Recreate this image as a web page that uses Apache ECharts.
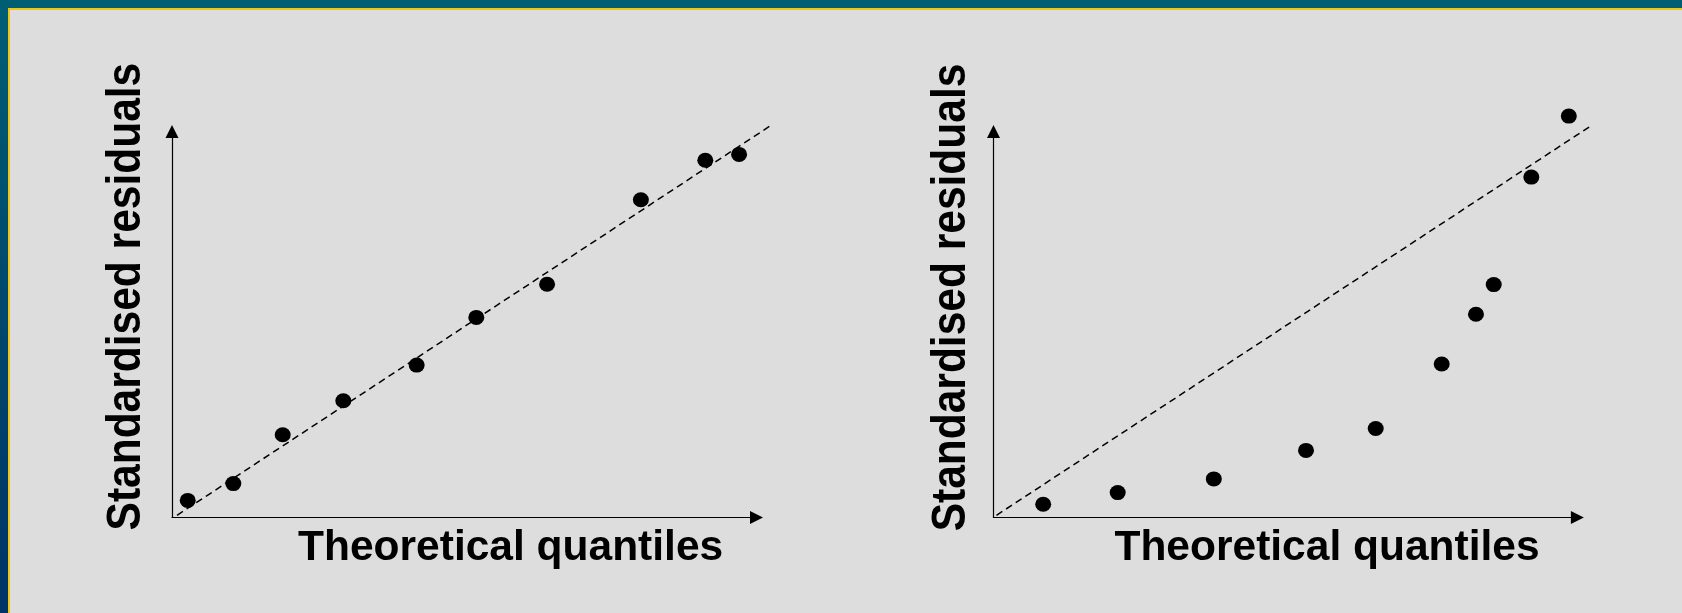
<!DOCTYPE html>
<html>
<head>
<meta charset="utf-8">
<script src="https://cdn.jsdelivr.net/npm/echarts@6/dist/echarts.min.js"></script>
<style>
html,body{margin:0;padding:0;background:#dddddd;}
#c{width:1682px;height:613px;}
</style>
</head>
<body>
<div id="c"></div>
<script>
// Left panel: approximately normal residuals (0-100 scale, no ticks shown)
var leftQuantiles  = [2.69, 10.49, 18.94, 29.31, 41.86, 52.06, 64.17, 80.22, 91.24, 97.02];
var leftResiduals  = [4.43, 8.78, 21.45, 30.26, 39.48, 51.84, 60.44, 82.31, 92.54, 94.07];
var leftRefX = [0.86, 102.31];
var leftRefY = [0.57, 101.42];

// Right panel: skewed residuals
var rightQuantiles = [8.51, 21.27, 37.73, 53.52, 65.46, 76.76, 82.63, 85.67, 92.11, 98.53];
var rightResiduals = [3.42, 6.45, 10.00, 17.38, 23.06, 39.77, 52.64, 60.34, 88.19, 103.99];
var rightRefX = [0.51, 102.02];
var rightRefY = [0.57, 101.17];

var xTitle = 'Theoretical quantiles';
var yTitle = 'Standardised residuals';

function pairs(xs, ys){ return xs.map(function(x,i){ return [x, ys[i]]; }); }

var FONT = 'bold 42.5px "Liberation Sans", Arial, sans-serif';

function axisDef(idx){
  return {
    type:'value', gridIndex:idx, min:0, max:100,
    axisLabel:{show:false}, axisTick:{show:false}, splitLine:{show:false},
    axisLine:{show:true, onZero:false, symbol:['none','triangle'], symbolSize:[13,13],
      lineStyle:{color:'#000', width:1.2}}
  };
}

function refLine(xIdx, xs, ys){
  return {
    type:'custom', xAxisIndex:xIdx, yAxisIndex:xIdx, silent:true, z:2,
    data:[[xs[0], ys[0], xs[1], ys[1]]],
    renderItem:function(params, api){
      var p0 = api.coord([api.value(0), api.value(1)]);
      var p1 = api.coord([api.value(2), api.value(3)]);
      return {type:'line', shape:{x1:p0[0], y1:p0[1], x2:p1[0], y2:p1[1]},
        style:{stroke:'#000', lineWidth:1.5, lineDash:[7,4.5], fill:null}};
    }
  };
}

var chart = echarts.init(document.getElementById('c'), null, {renderer:'canvas'});
chart.setOption({
  backgroundColor:'#dddddd',
  animation:false,
  grid:[
    {left:172, top:131.5, width:584.5, height:386, containLabel:false, outerBoundsMode:'none'},
    {left:993.5, top:131.5, width:583.9, height:386, containLabel:false, outerBoundsMode:'none'}
  ],
  xAxis:[axisDef(0), axisDef(1)],
  yAxis:[axisDef(0), axisDef(1)],
  series:[
    refLine(0, leftRefX, leftRefY),
    {type:'scatter', xAxisIndex:0, yAxisIndex:0, data:pairs(leftQuantiles,leftResiduals), clip:false,
      symbol:'circle', symbolSize:[16,15], itemStyle:{color:'#000', opacity:1}, z:3},
    refLine(1, rightRefX, rightRefY),
    {type:'scatter', xAxisIndex:1, yAxisIndex:1, data:pairs(rightQuantiles,rightResiduals), clip:false,
      symbol:'circle', symbolSize:[16,15], itemStyle:{color:'#000', opacity:1}, z:3}
  ],
  graphic:[
    {type:'rect', shape:{x:0,y:0,width:1682,height:8}, style:{fill:'#005e73'}, z:10},
    {type:'rect', shape:{x:0,y:0,width:8,height:613},
      style:{fill:new echarts.graphic.LinearGradient(0,0,0,1,[{offset:0,color:'#005e73'},{offset:1,color:'#003366'}])}, z:10},
    {type:'rect', shape:{x:8,y:8,width:1674,height:2}, style:{fill:'#f0c419'}, z:10},
    {type:'rect', shape:{x:8,y:8,width:2,height:605}, style:{fill:'#f0c419'}, z:10},
    {type:'text', x:510.6, y:548.5, style:{text:xTitle, font:FONT, fill:'#000', textAlign:'center', align:'center', textVerticalAlign:'middle', verticalAlign:'middle'}, z:10},
    {type:'text', x:1327, y:548.5, style:{text:xTitle, font:FONT, fill:'#000', textAlign:'center', align:'center', textVerticalAlign:'middle', verticalAlign:'middle'}, z:10},
    {type:'text', x:126.9, y:296.6, rotation:Math.PI/2, scaleX:1, scaleY:1.12,
      style:{text:yTitle, font:FONT, fill:'#000', textAlign:'center', align:'center', textVerticalAlign:'middle', verticalAlign:'middle'}, z:10},
    {type:'text', x:951.9, y:297.5, rotation:Math.PI/2, scaleX:1, scaleY:1.12,
      style:{text:yTitle, font:FONT, fill:'#000', textAlign:'center', align:'center', textVerticalAlign:'middle', verticalAlign:'middle'}, z:10}
  ]
});
</script>
</body>
</html>
